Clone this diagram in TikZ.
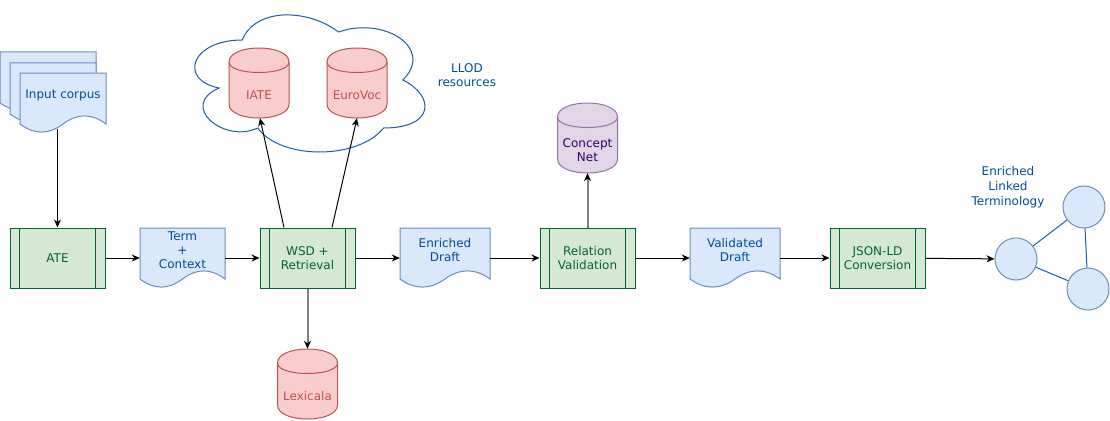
\documentclass[tikz,border=0pt]{standalone}
\usepackage{fontspec}
\setmainfont{DejaVu Sans}
\usetikzlibrary{arrows.meta}

\definecolor{greenFill}{HTML}{D5E8D4}
\definecolor{greenLine}{HTML}{006633}
\definecolor{greenText}{HTML}{006633}
\definecolor{blueFill}{HTML}{DAE8FC}
\definecolor{blueLine}{HTML}{6C8EBF}
\definecolor{blueText}{HTML}{004C99}
\definecolor{redFill}{HTML}{F8CECC}
\definecolor{redLine}{HTML}{B85450}
\definecolor{redText}{HTML}{B85450}
\definecolor{purpleFill}{HTML}{E1D5E7}
\definecolor{purpleLine}{HTML}{9673A6}
\definecolor{purpleText}{HTML}{330066}
\definecolor{cloudLine}{HTML}{1A5CA8}
\definecolor{grayLine}{HTML}{808080}

\tikzset{
  arr/.style={-{Stealth[length=8pt,width=7pt,inset=2.5pt]}, line width=1pt},
  grayarr/.style={-{Stealth[length=8pt,width=7pt,inset=2.5pt,color=black]}, draw=grayLine, line width=2pt},
  process/.style={draw=greenLine, fill=greenFill, line width=1pt, text=greenText, align=center,
    minimum width=95pt, minimum height=60pt, inner sep=0pt,
    path picture={
      \draw[greenLine, line width=1pt] ([xshift=9.5pt]path picture bounding box.north west) -- ([xshift=9.5pt]path picture bounding box.south west);
      \draw[greenLine, line width=1pt] ([xshift=-9.5pt]path picture bounding box.north east) -- ([xshift=-9.5pt]path picture bounding box.south east);
    }},
  docbox/.style={draw=blueLine, fill=blueFill, line width=1pt},
  docnode/.style={minimum width=#1, minimum height=60pt, inner sep=0pt},
  doclabel/.style={text=blueText, align=center, yshift=8pt},
  redbox/.style={draw=redLine, fill=redFill, line width=1pt},
  purplebox/.style={draw=purpleLine, fill=purpleFill, line width=1pt},
  dbnode/.style={minimum width=60pt, minimum height=70pt, inner sep=0pt},
  redlabel/.style={text=redText, yshift=-12pt},
  purplelabel/.style={text=purpleText, align=center, yshift=-12pt},
  cloudline/.style={draw=cloudLine, line width=1pt},
  termnode/.style={circle, draw=blueLine, fill=blueFill, line width=1pt, minimum size=42pt, inner sep=0pt},
  termedge/.style={draw=cloudLine, line width=1pt},
}

% document outline: left, top, width
\newcommand{\docshape}[3]{%
  \filldraw[docbox] (#1,#2) -- (#1+#3,#2) -- (#1+#3,#2+51)
    .. controls (#1+#3*5/6,#2+40.2) and (#1+#3*2/3,#2+40.2) .. (#1+#3/2,#2+51)
    .. controls (#1+#3/3,#2+61.8) and (#1+#3/6,#2+61.8) .. (#1,#2+51) -- cycle;}

% database outline: left, top, style
\newcommand{\dbshape}[3]{%
  \filldraw[#3] (#1,#2+14) .. controls (#1,#2-4.67) and (#1+60,#2-4.67) .. (#1+60,#2+14)
    -- (#1+60,#2+56) .. controls (#1+60,#2+74.67) and (#1,#2+74.67) .. (#1,#2+56) -- cycle;
  \draw[#3, fill=none] (#1,#2+14) .. controls (#1,#2+28) and (#1+60,#2+28) .. (#1+60,#2+14);}

\begin{document}
\begin{tikzpicture}[x=1pt, y=-1pt, font=\fontsize{12}{14}\selectfont]
  \useasboundingbox (0,0) rectangle (1110,420);

  % LLOD cloud
  \draw[cloudline] (242.25,40) .. controls (190.85,40) and (178,80) .. (219.12,88)
    .. controls (178,105.6) and (224.26,144) .. (257.67,128)
    .. controls (280.8,160) and (357.9,160) .. (383.6,128)
    .. controls (435,128) and (435,96) .. (402.88,80)
    .. controls (435,48) and (383.6,16) .. (338.63,32)
    .. controls (306.5,8) and (255.1,8) .. (242.25,40) -- cycle;

  \dbshape{229}{48}{redbox}
  \dbshape{327}{48}{redbox}
  \dbshape{277.5}{349}{redbox}
  \dbshape{557.5}{103}{purplebox}

  \docshape{0}{52}{96}
  \docshape{10}{63}{86}
  \docshape{20}{73}{86}
  \docshape{140}{228}{85}
  \docshape{400}{228}{90}
  \docshape{690}{228}{90}

  \node[dbnode, label={[redlabel]center:IATE}] (iate) at (259,83) {};
  \node[dbnode, label={[redlabel]center:EuroVoc}] (eurovoc) at (357,83) {};
  \node[dbnode, label={[redlabel]center:Lexicala}] (lexicala) at (307.5,384) {};
  \node[dbnode, label={[purplelabel]center:Concept\\Net}] (conceptnet) at (587.5,138) {};

  \node[text=blueText, align=center] (llod) at (467,75.5) {LLOD\\resources};

  \node[docnode=86pt, minimum height=56pt, label={[doclabel, yshift=-2pt]center:Input corpus}] (corpus) at (63,101) {};
  \node[docnode=85pt, label={[doclabel]center:Term\\+\\Context}] (term) at (182.5,258) {};
  \node[docnode=90pt, label={[doclabel]center:Enriched\\Draft}] (enriched) at (445,258) {};
  \node[docnode=90pt, label={[doclabel]center:Validated\\Draft}] (validated) at (735,258) {};

  \node[process] (ate) at (57.5,258) {ATE};
  \node[process] (wsd) at (307.5,258) {WSD +\\Retrieval};
  \node[process] (relval) at (587.5,258) {Relation\\Validation};
  \node[process] (jsonld) at (877.5,258) {JSON-LD\\Conversion};

  \node[termnode] (t1) at (1016,259) {};
  \node[termnode] (t2) at (1084,207) {};
  \node[termnode] (t3) at (1088,289) {};
  \node[text=blueText, align=center, font=\fontsize{12}{15}\selectfont] (eltlabel) at (1008,187) {Enriched\\Linked\\Terminology};

  \draw[arr] (corpus.south -| ate.north) -- (ate.north);
  \draw[arr] (ate) -- (term);
  \draw[arr] (term) -- (wsd);
  \draw[arr] (wsd) -- (enriched);
  \draw[arr] (enriched) -- (relval);
  \draw[arr] (relval) -- (validated);
  \draw[arr] (validated) -- (jsonld);
  \draw[arr] (jsonld) -- (t1);
  \draw[arr] ([xshift=-23.5pt]wsd.north) -- ([xshift=1pt]iate.south);
  \draw[arr] ([xshift=24.5pt]wsd.north) -- (eurovoc.south);
  \draw[grayarr] (wsd) -- (lexicala);
  \draw[grayarr] (relval) -- (conceptnet);

  \draw[termedge] (t1) -- (t2) (t1) -- (t3) (t2) -- (t3);
\end{tikzpicture}
\end{document}
